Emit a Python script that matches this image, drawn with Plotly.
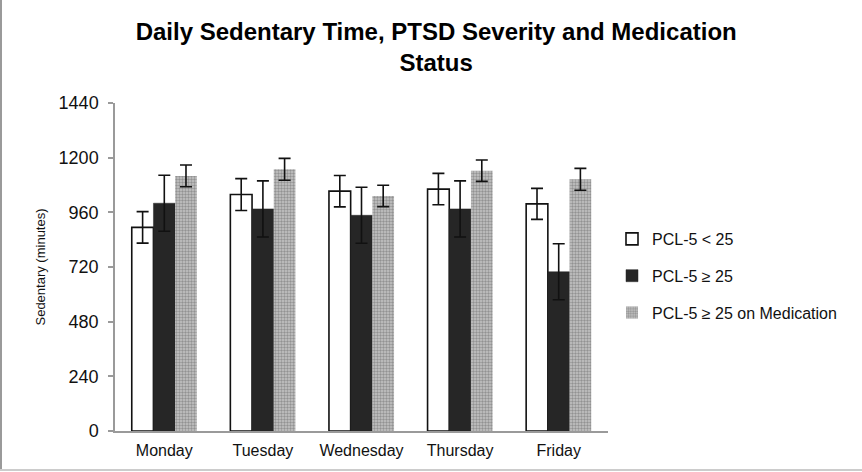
import plotly.graph_objects as go

days = ["Monday", "Tuesday", "Wednesday", "Thursday", "Friday"]
series_names = ["PCL-5 < 25", "PCL-5 ≥ 25", "PCL-5 ≥ 25 on Medication"]
low_pcl = [894, 1038, 1053, 1062, 997]
low_pcl_err = [69, 70, 69, 69, 68]
high_pcl = [1000, 975, 947, 975, 699]
high_pcl_err = [123, 123, 123, 123, 123]
high_pcl_med = [1120, 1149, 1032, 1143, 1105]
high_pcl_med_err = [48, 48, 47, 47, 48]
y_ticks = [0, 240, 480, 720, 960, 1200, 1440]

FONT = "Liberation Sans, Arial, Helvetica, sans-serif"
W, H = 862, 472
L, R, T, B = 115, 254, 103, 41
pw, ph = W - L - R, H - T - B

def px_x(x):
    return (x - L) / pw

def px_y(y):
    return (H - B - y) / ph

err_style = dict(type="data", thickness=1.6, width=6, color="#111111")

fig = go.Figure()
fig.add_trace(go.Bar(
    x=days, y=low_pcl, name=series_names[0], legendgroup="a",
    marker=dict(color="white", line=dict(color="#111111", width=1.6)),
    error_y=dict(array=low_pcl_err, **err_style),
))
fig.add_trace(go.Bar(
    x=days, y=high_pcl, name=series_names[1], legendgroup="b",
    marker=dict(color="#262626", line=dict(color="#262626", width=0.5)),
    error_y=dict(array=high_pcl_err, **err_style),
))
fig.add_trace(go.Bar(
    x=days, y=high_pcl_med, name=series_names[2], legendgroup="c",
    marker=dict(color="#b8b8b8", line=dict(width=0),
                pattern=dict(shape=".", size=3, solidity=0.5,
                             fgcolor="#5e5e5e", bgcolor="#c6c6c6")),
    error_y=dict(array=high_pcl_med_err, **err_style),
))

fig.update_layout(
    width=W, height=H,
    margin=dict(l=L, r=R, t=T, b=B),
    paper_bgcolor="white", plot_bgcolor="white",
    barmode="group", bargap=0.34, bargroupgap=0,
    font=dict(family=FONT, color="#111111", size=16),
    title=dict(
        text="Daily Sedentary Time, PTSD Severity and Medication<br>Status",
        x=0.506, xanchor="center", y=1 - 40 / H, yanchor="top",
        font=dict(family=FONT, size=24, color="#000000", weight="bold"),
    ),
    showlegend=True,
    legend=dict(
        x=px_x(612), xanchor="left", y=px_y(276), yanchor="middle",
        traceorder="grouped", tracegroupgap=13,
        font=dict(family=FONT, size=16, color="#111111"),
        bgcolor="rgba(0,0,0,0)", itemwidth=30,
    ),
    xaxis=dict(
        showline=True, linecolor="#9a9a9a", linewidth=2,
        ticks="", showgrid=False, zeroline=False, ticklabelstandoff=4,
        tickfont=dict(family=FONT, size=16, color="#111111"),
    ),
    yaxis=dict(
        range=[0, 1440], tickvals=y_ticks, ticktext=[str(v) for v in y_ticks],
        showline=True, linecolor="#9a9a9a", linewidth=1.5,
        ticks="outside", ticklen=5, tickcolor="#9a9a9a", tickwidth=1.5,
        showgrid=False, zeroline=False, ticklabelstandoff=6,
        tickfont=dict(family=FONT, size=18, color="#111111"),
        title=dict(text="Sedentary (minutes)", standoff=10,
                   font=dict(family=FONT, size=13, color="#111111")),
    ),
    shapes=[
        dict(type="line", xref="paper", yref="paper",
             x0=px_x(1), x1=px_x(1), y0=px_y(470), y1=px_y(0),
             line=dict(color="#9a9a9a", width=2)),
        dict(type="line", xref="paper", yref="paper",
             x0=px_x(0), x1=px_x(862), y0=px_y(470), y1=px_y(470),
             line=dict(color="#cccccc", width=2)),
    ],
)

fig.write_html("out.html")
